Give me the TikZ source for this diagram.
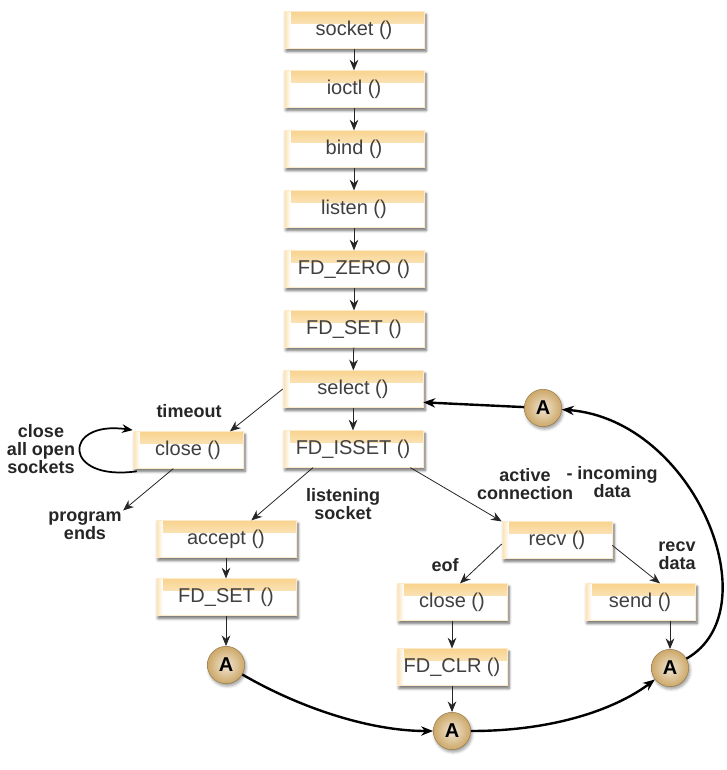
\documentclass[tikz,border=0pt]{standalone}
\usepackage{fontspec}
\setmainfont{Liberation Sans}
\usetikzlibrary{arrows.meta,shadows.blur}

\definecolor{boxedge}{RGB}{248,208,135}
\definecolor{balltan}{RGB}{205,168,105}

\tikzset{
  fnbox/.style={draw=boxedge!45, fill=white, minimum width=105pt, minimum height=27.5pt,
    inner sep=0pt, text=black!75, font=\fontsize{15}{17}\selectfont,
    blur shadow={shadow xshift=1.5pt, shadow yshift=-2.2pt, shadow blur steps=6, shadow opacity=60},
    path picture={
      \shade[top color=boxedge, bottom color=white]
        ([yshift=2pt]path picture bounding box.north west) rectangle ([yshift=-9pt]path picture bounding box.north east);
      \shade[left color=boxedge!80, right color=white]
        ([xshift=-1pt]path picture bounding box.north west) rectangle ([xshift=5pt]path picture bounding box.south west);
    }},
  smallbox/.style={fnbox, minimum width=82.5pt},
  ball/.style={circle, minimum size=28pt, inner sep=0pt, draw=balltan!75!black,
    inner color=balltan!30, outer color=balltan,
    font=\bfseries\fontsize{15}{15}\selectfont,
    blur shadow={shadow xshift=1pt, shadow yshift=-1.8pt, shadow blur steps=5}},
  lbl/.style={align=center, inner sep=1pt, text=black!85, font=\bfseries\fontsize{13.5}{13.5}\selectfont},
  flow/.style={-{Stealth[length=8pt,width=6.5pt]}, semithick, black!85},
  ring/.style={-{Stealth[length=9pt,width=7pt]}, line width=1.8pt}
}

\begin{document}
\begin{tikzpicture}[x=0.75pt, y=-0.75pt]

    \useasboundingbox (0,0) rectangle (727,770);

    % --- main column ---
    \node[fnbox] (sock)    at (354,30)  {socket ()};
    \node[fnbox] (ioctl)   at (354,89)  {ioctl ()};
    \node[fnbox] (bind)    at (354,149) {bind ()};
    \node[fnbox] (listen)  at (354,209) {listen ()};
    \node[fnbox] (fdzero)  at (354,269) {FD\_ZERO ()};
    \node[fnbox] (fdset)   at (354,329) {FD\_SET ()};
    \node[fnbox] (select)  at (353,389) {select ()};
    \node[fnbox] (fdisset) at (353,449) {FD\_ISSET ()};

    % --- branches ---
    \node[smallbox] (closeL) at (188,450) {close ()};
    \node[fnbox]    (accept) at (226,539) {accept ()};
    \node[fnbox]    (fdsetL) at (226,597) {FD\_SET ()};
    \node[smallbox] (recv)   at (557,540) {recv ()};
    \node[smallbox] (closeR) at (452,602) {close ()};
    \node[smallbox] (fdclr)  at (452,667) {FD\_CLR ()};
    \node[smallbox] (send)   at (640,602) {send ()};

    % --- connectors "A" ---
    \node[ball] (aL) at (226,665) {A};
    \node[ball] (aB) at (452,731) {A};
    \node[ball] (aR) at (670,668) {A};
    \node[ball] (aT) at (543,408) {A};

    % --- labels ---
    \node[lbl] (timeout)   at (189,411) {timeout};
    \node[lbl] (closeall)  at (41,449)  {close\\all open\\sockets};
    \node[lbl] (progend)   at (85,526)  {program\\ends};
    \node[lbl] (listening) at (343,504) {listening\\socket};
    \node[lbl] (active)    at (525,484) {active\\connection};
    \node[lbl] (incoming)  at (612,482) {- incoming\\data};
    \node[lbl] (eof)       at (445,565) {eof};
    \node[lbl] (recvdata)  at (677,556) {recv\\data};

    % --- straight flow ---
    \foreach \a/\b in {sock/ioctl, ioctl/bind, bind/listen, listen/fdzero,
                       fdzero/fdset, fdset/select, select/fdisset,
                       accept/fdsetL, fdsetL/aL, closeR/fdclr, fdclr/aB}
      \draw[flow] (\a) -- (\b);
    \draw[flow] (send.south -| aR.north) -- (aR.north);

    \draw[flow] (select.west) -- ([xshift=-10pt]closeL.north east);
    \draw[flow] ([xshift=-11pt]closeL.south) -- (progend.north east);
    \draw[flow] ([xshift=-30pt]fdisset.south) -- ([xshift=19pt]accept.north);
    \draw[flow] ([xshift=43pt]fdisset.south) -- (recv.north west);
    \draw[flow] ([yshift=-3pt]recv.west) -- ([xshift=6pt]closeR.north);
    \draw[flow] ([yshift=-4pt]recv.east) -- ([xshift=15pt]send.north);

    % loop on close ()
    \draw[-{Stealth[length=8pt,width=6.5pt]}, line width=1.3pt]
      ([xshift=3pt,yshift=-2pt]closeL.south west) .. controls (62,482) and (62,420) .. ([yshift=1pt]closeL.north west);

    % --- thick ring back to select ---
    \draw[ring] (aL) .. controls (300,708) and (370,731) .. (aB);
    \draw[ring] (aB) .. controls (560,731) and (620,706) .. (aR);
    \draw[ring] (aR) .. controls (772,610) and (695,420) .. (aT);
    \draw[ring] (aT) -- ([yshift=-10pt]select.east);

\end{tikzpicture}
\end{document}
